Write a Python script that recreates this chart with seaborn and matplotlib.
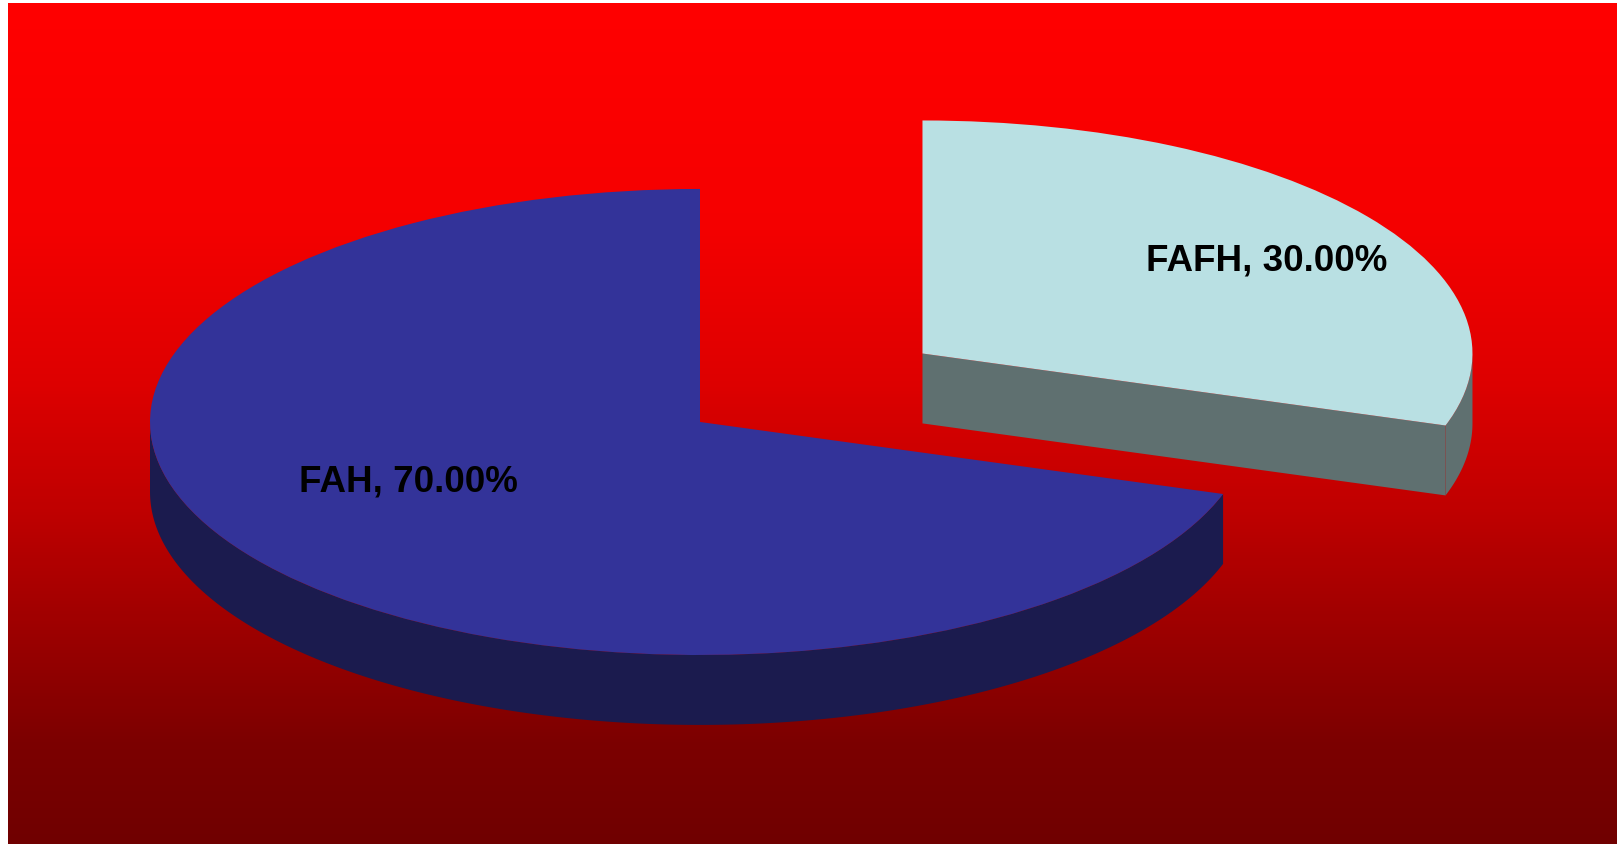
import numpy as np
import matplotlib
matplotlib.use("Agg")
import matplotlib.pyplot as plt
from matplotlib.patches import Wedge, Polygon
from matplotlib.colors import LinearSegmentedColormap
import seaborn as sns

# Data
categories = ["FAH", "FAFH"]
shares = [70.0, 30.0]
labels = [f"{c}, {v:.2f}%" for c, v in zip(categories, shares)]
explode = [0.0, 0.5]

# Styling
top_colors = ["#333399", "#B9E0E3"]
side_colors = ["#1B1B4E", "#5F7070"]
depth = 0.30          # thickness of the disc, in y data units
start_angle = -18.0   # first slice begins here and slices run clockwise

sns.set_theme(style="white")
plt.rcParams["font.family"] = ["Liberation Sans", "DejaVu Sans"]

W, H = 1618, 845
fig = plt.figure(figsize=(W / 100, H / 100), dpi=100)
fig.patch.set_facecolor("white")

# plot area (red panel) in figure fraction
left_px, right_px, top_px, bottom_px = 8, 1617, 4, 845
ax = fig.add_axes([left_px / W, 1 - bottom_px / H,
                   (right_px - left_px) / W, (bottom_px - top_px) / H])
xmin, xmax = -1.2582, 1.6673
ymin, ymax = -1.811, 1.798
ax.set_xlim(xmin, xmax)
ax.set_ylim(ymin, ymax)
ax.set_axis_off()

# vertical red gradient background (eased: bright top, deep maroon bottom)
bg_cmap = LinearSegmentedColormap.from_list(
    "bg",
    [(0.0, "#FF0000"), (0.25, "#F60000"), (0.45, "#DE0000"),
     (0.6, "#C00000"), (0.75, "#9C0000"), (0.88, "#7C0000"),
     (1.0, "#700000")])
ax.imshow(np.linspace(0, 1, 256).reshape(-1, 1), cmap=bg_cmap,
          extent=[xmin, xmax, ymin, ymax], aspect="auto",
          origin="upper", zorder=0)


def arc(t1, t2, cx, cy, n=200):
    t = np.radians(np.linspace(t1, t2, n))
    return cx + np.cos(t), cy + np.sin(t)


def draw_slice(theta1, theta2, cx, cy, top, side, z):
    # outer wall: only the front half (180..360 deg) faces the viewer
    for k in (0, 1):
        a = max(theta1, 180.0 + 360 * k)
        b = min(theta2, 360.0 + 360 * k)
        if b > a:
            x, y = arc(a, b, cx, cy)
            pts = np.column_stack([np.r_[x, x[::-1]], np.r_[y, y[::-1] - depth]])
            ax.add_patch(Polygon(pts, closed=True, facecolor=side,
                                 edgecolor="none", zorder=z))
    # radial cut faces that face the viewer
    for ang, sign in [(theta1, -1), (theta2, +1)]:
        normal = ang + sign * 90.0
        if np.sin(np.radians(normal)) < -1e-6:
            ex, ey = cx + np.cos(np.radians(ang)), cy + np.sin(np.radians(ang))
            pts = [(cx, cy), (ex, ey), (ex, ey - depth), (cx, cy - depth)]
            ax.add_patch(Polygon(pts, closed=True, facecolor=side,
                                 edgecolor="none", zorder=z))
    ax.add_patch(Wedge((cx, cy), 1.0, theta1, theta2, facecolor=top,
                       edgecolor="none", zorder=z + 0.5))


# slices, clockwise from the start angle
spans = [v / sum(shares) * 360 for v in shares]
ends = start_angle - np.cumsum([0] + spans)
label_offsets = [(-0.531, -0.253), (0.626, 0.401)]
for i, cat in enumerate(categories):
    theta1 = ends[i + 1] % 360
    theta2 = theta1 + spans[i]
    mid = np.radians((theta1 + theta2) / 2)
    cx, cy = explode[i] * np.cos(mid), explode[i] * np.sin(mid)
    draw_slice(theta1, theta2, cx, cy, top_colors[i], side_colors[i], 2 + i)
    lx, ly = label_offsets[i]
    ax.text(cx + lx, cy + ly, labels[i], ha="center", va="center",
            fontsize=26.5, fontweight="bold", color="black", zorder=10)

fig.savefig("out.png", dpi=100, facecolor=fig.get_facecolor())
